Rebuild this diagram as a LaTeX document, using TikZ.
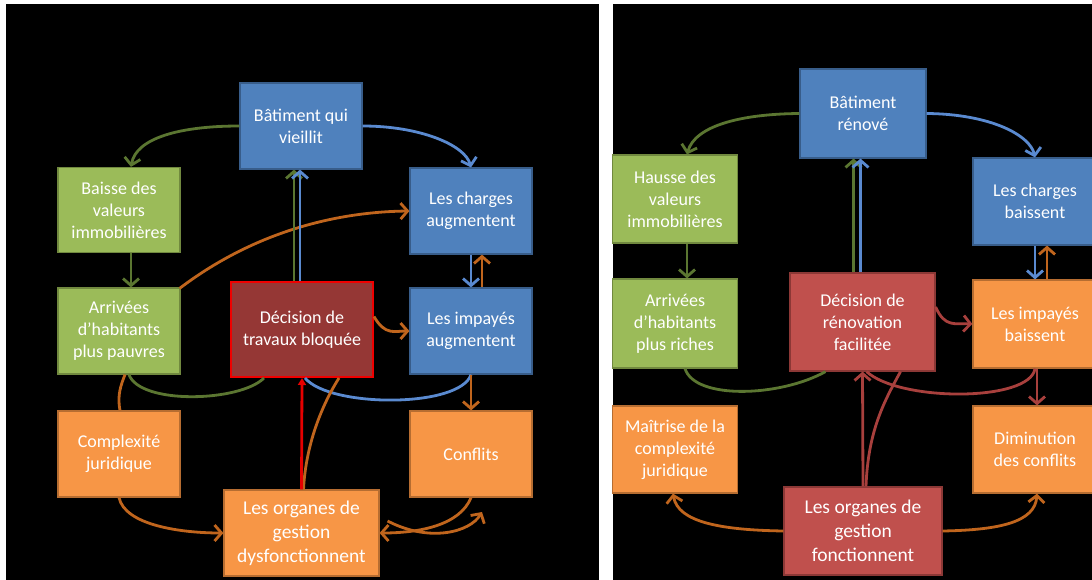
\documentclass[tikz,border=0pt]{standalone}
\usepackage{fontspec}
\setmainfont{Carlito}
\usetikzlibrary{arrows.meta}
\definecolor{bfill}{HTML}{4F81BD}\definecolor{bline}{HTML}{385D8A}
\definecolor{gfill}{HTML}{9BBB59}\definecolor{gline}{HTML}{71893F}
\definecolor{ofill}{HTML}{F79646}\definecolor{oline}{HTML}{B66D31}
\definecolor{rfill}{HTML}{C0504D}\definecolor{rline}{HTML}{8C3836}
\definecolor{dfill}{HTML}{953735}\definecolor{dline}{HTML}{F00000}
\definecolor{ared}{HTML}{E60000}
\definecolor{agreen}{HTML}{5B7631}
\definecolor{ablue}{HTML}{5A8AD0}
\definecolor{aorange}{HTML}{C0651D}
\definecolor{ared2}{HTML}{A8403D}
\tikzset{
  bx/.style={draw, line width=1.2pt, text=white, align=center, inner sep=0pt,
    font=\fontsize{18}{22}\selectfont},
  bbox/.style={bx, fill=bfill, draw=bline},
  gbox/.style={bx, fill=gfill, draw=gline},
  obox/.style={bx, fill=ofill, draw=oline},
  rbox/.style={bx, fill=rfill, draw=rline},
  dbox/.style={bx, fill=dfill, draw=dline, line width=2pt},
  big/.style={font=\fontsize{19.5}{24}\selectfont},
  conn/.style={line width=2.8pt},
  tipa/.style={-{Straight Barb[length=7pt,width=16pt]}},
  tipr/.style={-{Triangle[length=7pt,width=8pt]}},
  cg/.style={conn, draw=agreen},
  cb/.style={conn, draw=ablue},
  co/.style={conn, draw=aorange},
  cr/.style={conn, draw=ared},
  cr2/.style={conn, draw=ared2},
}
\begin{document}
\begin{tikzpicture}[x=1pt,y=-1pt]
\useasboundingbox (0,0) rectangle (1092,580);
\fill[white] (0,0) rectangle (1092,580);
\fill[black] (6,4) rectangle (599,580);
\fill[black] (613,4) rectangle (1092,580);

% ---------------- left panel ----------------
\node[bbox, minimum width=122pt, minimum height=86pt] (bat) at (301,126) {Bâtiment qui\\vieillit};
\node[gbox, minimum width=122pt, minimum height=85pt] (baisse) at (119,210) {Baisse des\\valeurs\\immobilières};
\node[bbox, minimum width=122pt, minimum height=86pt] (charges) at (471,211) {Les charges\\augmentent};
\node[gbox, minimum width=122pt, minimum height=86pt] (arr) at (119,331) {Arrivées\\d’habitants\\plus pauvres};
\node[dbox, minimum width=142pt, minimum height=95pt] (dec) at (302,329.5) {Décision de\\travaux bloquée};
\node[bbox, minimum width=122pt, minimum height=86pt] (imp) at (471,331) {Les impayés\\augmentent};
\node[obox, minimum width=122pt, minimum height=86pt] (comp) at (119,454) {Complexité\\juridique};
\node[obox, minimum width=122pt, minimum height=86pt] (conf) at (471,454) {Conflits};
\node[obox, big, minimum width=155pt, minimum height=86pt] (org) at (301.5,533) {Les organes de\\gestion\\dysfonctionnent};
\coordinate (free) at (482,512);

\draw[cg, tipa] (bat.west) .. controls (180,126) and (136,138) .. ([xshift=12pt]baisse.north);
\draw[cb, tipa] (bat.east) .. controls (420,126) and (465,145) .. (charges.north);
\draw[cg, tipa] ([xshift=12pt]baisse.south) -- ([xshift=12pt]arr.north);
\draw[cg] ([xshift=10pt]arr.south) .. controls (140,405) and (240,402) .. ([xshift=-38pt]dec.south);
\draw[co] ([xshift=1pt]comp.north) .. controls (117,395) and (121,385) .. ([xshift=6pt]arr.south);
\draw[co, tipa] ([xshift=-1pt,yshift=-1pt]arr.north east) .. controls (250,235) and (330,212) .. (charges.west);
\draw[cg, tipa] ([xshift=-8pt]dec.north) -- ([xshift=-8pt]dec.north |- bat.south);
\draw[cb, tipa] ([xshift=-2pt]dec.north) -- ([xshift=-2pt]dec.north |- bat.south);
\draw[cb, tipa] (charges.south) -- (imp.north);
\draw[co, tipa] ([xshift=11pt]imp.north) -- ([xshift=11pt]imp.north |- charges.south);
\draw[co, tipa] ([yshift=13pt]dec.east) .. controls (385,336) and (395,331) .. (imp.west);
\draw[cb] (imp.south) .. controls (460,408) and (330,408) .. ([xshift=3pt]dec.south);
\draw[co] ([xshift=2pt]org.north) .. controls (306,440) and (325,400) .. ([xshift=37pt]dec.south);
\draw[cr, tipr] (org.north) -- (dec.south);
\draw[co, tipa] (imp.south) -- (conf.north);
\draw[co, tipa] (comp.south) .. controls (125,525) and (180,533) .. (org.west);
\draw[co, tipa] (conf.south) .. controls (460,525) and (420,533) .. (org.east);
\draw[co, tipa] ([xshift=8pt,yshift=12pt]org.east) .. controls (430,543) and (470,532) .. (free);

% ---------------- right panel ----------------
\node[bbox, minimum width=126pt, minimum height=89pt] (bat2) at (863,113.5) {Bâtiment\\rénové};
\node[gbox, minimum width=125pt, minimum height=88pt] (hausse) at (675,199) {Hausse des\\valeurs\\immobilières};
\node[bbox, minimum width=124pt, minimum height=87pt] (charges2) at (1035,201.5) {Les charges\\baissent};
\node[gbox, minimum width=125pt, minimum height=89pt] (arr2) at (675,323.5) {Arrivées\\d’habitants\\plus riches};
\node[rbox, minimum width=145pt, minimum height=98pt] (dec2) at (862.5,322) {Décision de\\rénovation\\facilitée};
\node[obox, minimum width=124pt, minimum height=88pt] (imp2) at (1035,324) {Les impayés\\baissent};
\node[obox, minimum width=125pt, minimum height=87pt] (mait) at (675,449.5) {Maîtrise de la\\complexité\\juridique};
\node[obox, minimum width=124pt, minimum height=87pt] (dim) at (1035,449.5) {Diminution\\des conflits};
\node[rbox, big, minimum width=158pt, minimum height=88pt] (org2) at (863,531) {Les organes de\\gestion\\fonctionnent};

\draw[cg, tipa] (bat2.west) .. controls (740,114) and (695,126) .. ([xshift=12pt]hausse.north);
\draw[cb, tipa] (bat2.east) .. controls (990,114) and (1030,135) .. (charges2.north);
\draw[cg, tipa] ([xshift=12pt]hausse.south) -- ([xshift=12pt]arr2.north);
\draw[cg, tipa] ([xshift=-9pt]dec2.north) -- ([xshift=-9pt]dec2.north |- bat2.south);
\draw[cb, tipa] ([xshift=-2pt]dec2.north) -- ([xshift=-2pt]dec2.north |- bat2.south);
\draw[cb, tipa] (charges2.south) -- (imp2.north);
\draw[co, tipa] ([xshift=12pt]imp2.north) -- ([xshift=12pt]imp2.north |- charges2.south);
\draw[cr2, tipa] ([yshift=15pt]dec2.east) .. controls (945,328) and (955,323) .. (imp2.west);
\draw[cg] ([xshift=10pt]arr2.south) .. controls (695,400) and (780,397) .. ([xshift=-37pt]dec2.south);
\draw[cr2] ([xshift=3pt]org2.north) .. controls (868,430) and (885,400) .. ([xshift=38pt]dec2.south);
\draw[cr2] (imp2.south) .. controls (1030,402) and (900,402) .. ([xshift=4pt]dec2.south);
\draw[cr2, tipa] (org2.north) -- (dec2.south);
\draw[cr2, tipa] ([xshift=2pt]imp2.south) -- ([xshift=2pt]dim.north);
\draw[co, tipa] (org2.west) .. controls (720,530) and (678,522) .. ([xshift=-2pt]mait.south);
\draw[co, tipa] (org2.east) .. controls (1000,530) and (1035,522) .. ([xshift=2pt]dim.south);
\end{tikzpicture}
\end{document}
